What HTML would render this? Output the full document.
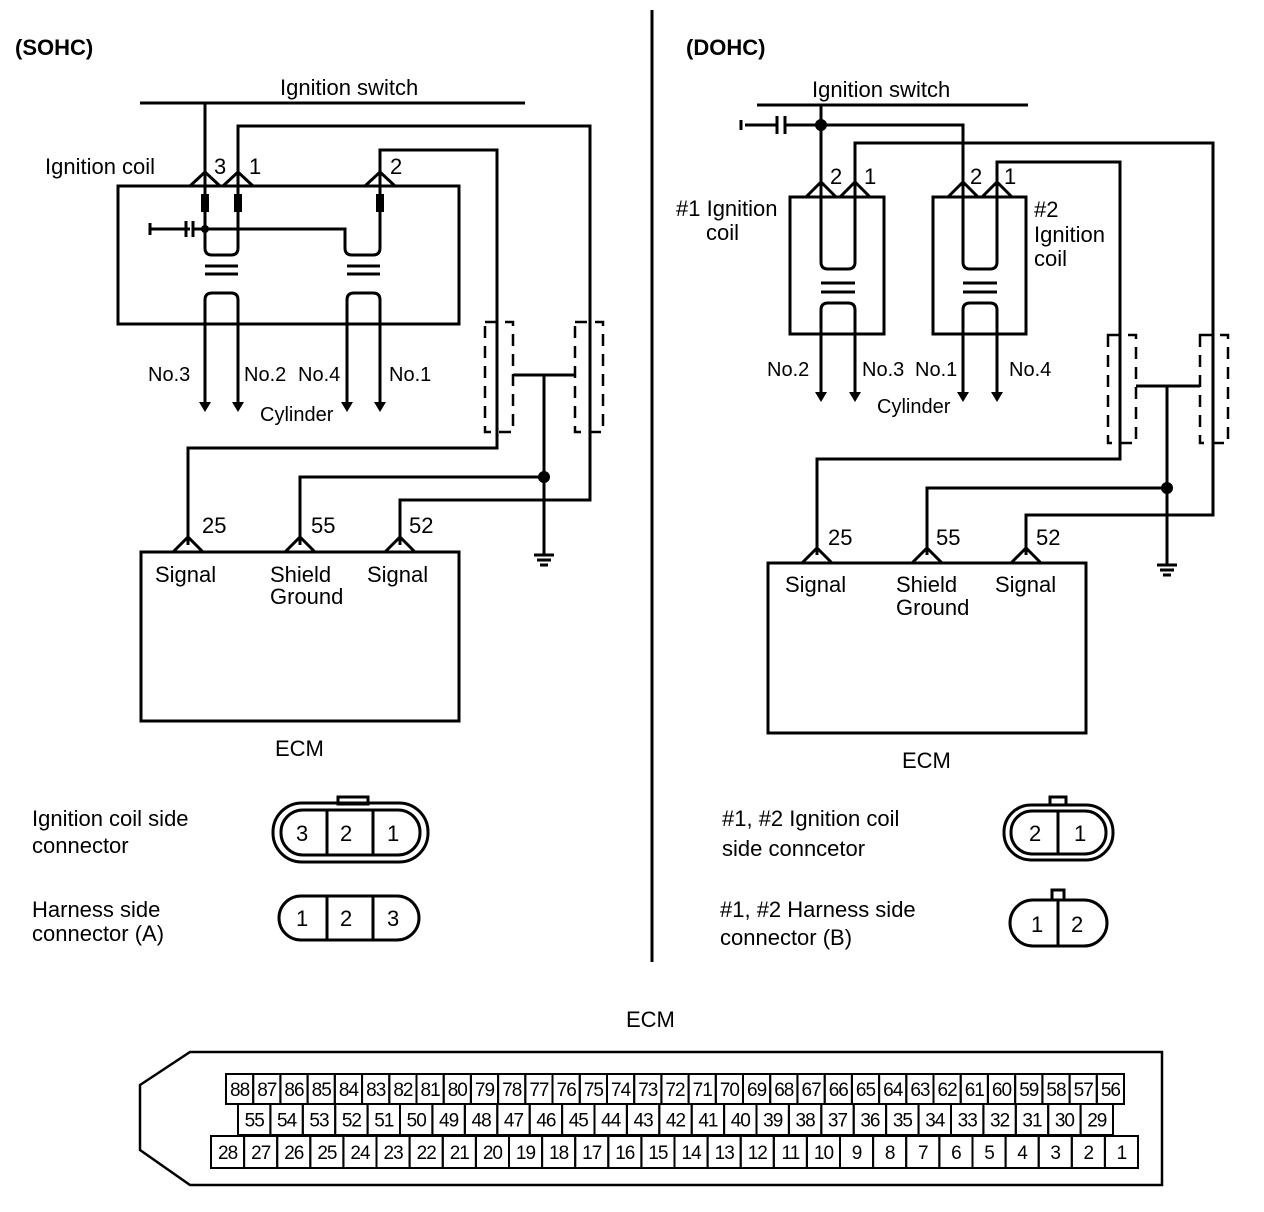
<!DOCTYPE html>
<html><head><meta charset="utf-8"><style>
body{margin:0;background:#fff}
svg{display:block}
text{font-family:"Liberation Sans",Arial,sans-serif;font-size:22px;fill:#000}
.b{font-weight:bold}
.s{font-size:20px}
</style></head><body>
<svg width="1264" height="1212" viewBox="0 0 1264 1212" xmlns="http://www.w3.org/2000/svg">
<g stroke="#000" stroke-width="3" fill="none">
<line x1="652" y1="10" x2="652" y2="962"/>
<line x1="140" y1="103" x2="525" y2="103"/>
<polyline points="205,103 205,186"/>
<polyline points="238,186 238,126 590,126 590,500 400,500 400,545"/>
<polyline points="380,186 380,150 497,150 497,448 188,448 188,545"/>
<rect x="118" y="186" width="341" height="138"/>
<polyline points="190,186 205,172 220,186"/>
<polyline points="223,186 238,172 253,186"/>
<polyline points="365,186 380,172 395,186"/>
<polyline points="173,552 188,537 203,552"/>
<polyline points="285,552 300,537 315,552"/>
<polyline points="385,552 400,537 415,552"/>
<rect x="141" y="552" width="318" height="169"/>
<path d="M205,186 V248 Q205,255 212,255 H231 Q238,255 238,248 V186"/>
<path d="M205,229 H345 V248 Q345,255 352,255 H373 Q380,255 380,248 V186"/>
<line x1="150" y1="229" x2="190" y2="229"/>
<line x1="186" y1="221" x2="186" y2="237"/>
<line x1="193" y1="221" x2="193" y2="237"/>
<line x1="193" y1="229" x2="205" y2="229"/>
<line x1="150" y1="223" x2="150" y2="235"/>
<line x1="205" y1="266" x2="238" y2="266"/>
<line x1="205" y1="274" x2="238" y2="274"/>
<line x1="347" y1="266" x2="380" y2="266"/>
<line x1="347" y1="274" x2="380" y2="274"/>
<path d="M205,402 V300 Q205,293 212,293 H231 Q238,293 238,300 V402"/>
<path d="M347,402 V300 Q347,293 354,293 H373 Q380,293 380,300 V402"/>
<g stroke-dasharray="12,8" stroke-width="2.5">
<rect x="485" y="322" width="28" height="110"/>
<rect x="575" y="322" width="28" height="110"/>
</g>
<line x1="513" y1="375" x2="575" y2="375"/>
<polyline points="544,375 544,555"/>
<polyline points="544,477 300,477 300,545"/>
<line x1="534" y1="555" x2="554" y2="555"/>
<line x1="537" y1="560" x2="551" y2="560"/>
<line x1="540" y1="565" x2="548" y2="565"/>
<line x1="757" y1="105" x2="1028" y2="105"/>
<line x1="821" y1="105" x2="821" y2="197"/>
<polyline points="821,125 963,125 963,197"/>
<line x1="745" y1="125" x2="777" y2="125"/>
<line x1="777" y1="116" x2="777" y2="134"/>
<line x1="785" y1="116" x2="785" y2="134"/>
<line x1="785" y1="125" x2="821" y2="125"/>
<line x1="741" y1="120" x2="741" y2="130"/>
<polyline points="855,197 855,143 1213,143 1213,515 1026,515 1026,555"/>
<polyline points="997,197 997,162 1120,162 1120,459 817,459 817,555"/>
<rect x="790" y="197" width="94" height="137"/>
<rect x="933" y="197" width="93" height="137"/>
<polyline points="806,197 821,182 836,197"/>
<polyline points="840,197 855,182 870,197"/>
<polyline points="948,197 963,182 978,197"/>
<polyline points="982,197 997,182 1012,197"/>
<path d="M821,197 V262 Q821,269 828,269 H848 Q855,269 855,262 V197"/>
<path d="M963,197 V262 Q963,269 970,269 H990 Q997,269 997,262 V197"/>
<line x1="821" y1="283" x2="855" y2="283"/>
<line x1="821" y1="292" x2="855" y2="292"/>
<line x1="963" y1="283" x2="997" y2="283"/>
<line x1="963" y1="292" x2="997" y2="292"/>
<path d="M821,393 V310 Q821,303 828,303 H848 Q855,303 855,310 V393"/>
<path d="M963,393 V310 Q963,303 970,303 H990 Q997,303 997,310 V393"/>
<g stroke-dasharray="12,8" stroke-width="2.5">
<rect x="1108" y="335" width="28" height="108"/>
<rect x="1200" y="335" width="28" height="108"/>
</g>
<line x1="1136" y1="386" x2="1200" y2="386"/>
<line x1="1167" y1="386" x2="1167" y2="565"/>
<polyline points="1167,488 927,488 927,555"/>
<line x1="1157" y1="565" x2="1177" y2="565"/>
<line x1="1160" y1="570" x2="1174" y2="570"/>
<line x1="1163" y1="575" x2="1171" y2="575"/>
<polyline points="802,563 817,548 832,563"/>
<polyline points="912,563 927,548 942,563"/>
<polyline points="1011,563 1026,548 1041,563"/>
<rect x="768" y="563" width="318" height="170"/>
<rect x="338" y="797" width="30" height="7"/>
<rect x="273" y="803" width="155" height="59" rx="29"/>
<rect x="281" y="810" width="139" height="45" rx="22"/>
<line x1="327" y1="810" x2="327" y2="855"/>
<line x1="373" y1="810" x2="373" y2="855"/>
<rect x="279" y="896" width="140" height="44" rx="22"/>
<line x1="327" y1="896" x2="327" y2="940"/>
<line x1="373" y1="896" x2="373" y2="940"/>
<rect x="1050" y="797" width="16" height="8"/>
<rect x="1004" y="805" width="109" height="55" rx="27"/>
<rect x="1011" y="811" width="95" height="43" rx="21"/>
<line x1="1058" y1="811" x2="1058" y2="854"/>
<rect x="1052" y="890" width="12" height="10"/>
<rect x="1010" y="900" width="97" height="46" rx="23"/>
<line x1="1058" y1="900" x2="1058" y2="946"/>
<path d="M190,1052 H1162 V1185 H190 L140,1150 V1085 Z" stroke-width="2.5"/>
</g>
<g fill="#000">
<path d="M199,402 h12 l-6,10z"/><path d="M232,402 h12 l-6,10z"/><path d="M341,402 h12 l-6,10z"/><path d="M374,402 h12 l-6,10z"/>
<path d="M815,392 h12 l-6,10z"/><path d="M849,392 h12 l-6,10z"/><path d="M957,392 h12 l-6,10z"/><path d="M991,392 h12 l-6,10z"/>
<rect x="201" y="194" width="8" height="18"/><rect x="234" y="194" width="8" height="18"/><rect x="376" y="194" width="8" height="18"/>
<circle cx="205" cy="229" r="4"/><circle cx="544" cy="477" r="6"/><circle cx="821" cy="125" r="6"/><circle cx="1167" cy="488" r="6"/>
</g>
<text x="15" y="55" class="b">(SOHC)</text>
<text x="686" y="55" class="b">(DOHC)</text>
<text x="280" y="95">Ignition switch</text>
<text x="812" y="97">Ignition switch</text>
<text x="45" y="174">Ignition coil</text>
<text x="214" y="174">3</text><text x="249" y="174">1</text><text x="390" y="174">2</text>
<text x="148" y="381" class="s">No.3</text><text x="244" y="381" class="s">No.2</text><text x="298" y="381" class="s">No.4</text><text x="389" y="381" class="s">No.1</text>
<text x="260" y="421" class="s">Cylinder</text>
<text x="202" y="533">25</text><text x="311" y="533">55</text><text x="409" y="533">52</text>
<text x="155" y="582">Signal</text><text x="270" y="582">Shield</text><text x="270" y="604">Ground</text><text x="367" y="582">Signal</text>
<text x="275" y="756">ECM</text>
<text x="32" y="826">Ignition coil side</text><text x="32" y="853">connector</text>
<text x="296" y="841">3</text><text x="340" y="841">2</text><text x="387" y="841">1</text>
<text x="32" y="917">Harness side</text><text x="32" y="941">connector (A)</text>
<text x="296" y="926">1</text><text x="340" y="926">2</text><text x="387" y="926">3</text>
<text x="676" y="216">#1 Ignition</text><text x="706" y="240">coil</text>
<text x="1034" y="217">#2</text><text x="1034" y="242">Ignition</text><text x="1034" y="266">coil</text>
<text x="830" y="184">2</text><text x="864" y="184">1</text><text x="970" y="184">2</text><text x="1004" y="184">1</text>
<text x="767" y="376" class="s">No.2</text><text x="862" y="376" class="s">No.3</text><text x="915" y="376" class="s">No.1</text><text x="1009" y="376" class="s">No.4</text>
<text x="877" y="413" class="s">Cylinder</text>
<text x="828" y="545">25</text><text x="936" y="545">55</text><text x="1036" y="545">52</text>
<text x="785" y="592">Signal</text><text x="896" y="592">Shield</text><text x="896" y="615">Ground</text><text x="995" y="592">Signal</text>
<text x="902" y="768">ECM</text>
<text x="722" y="826">#1, #2 Ignition coil</text><text x="722" y="856">side conncetor</text>
<text x="1029" y="841">2</text><text x="1074" y="841">1</text>
<text x="720" y="917">#1, #2 Harness side</text><text x="720" y="945">connector (B)</text>
<text x="1031" y="932">1</text><text x="1071" y="932">2</text>
<text x="626" y="1027">ECM</text>
<g id="pins"></g>
</svg>
<script>
(function(){
var g=document.getElementById('pins'),h='';
function row(x0,x1,y,hh,from,to){var n=from-to+1,w=(x1-x0)/n;for(var i=0;i<n;i++){var x=x0+i*w;h+='<rect x="'+x.toFixed(1)+'" y="'+y+'" width="'+w.toFixed(1)+'" height="'+hh+'" fill="none" stroke="#000" stroke-width="2"/>';h+='<text x="'+(x+w/2).toFixed(1)+'" y="'+(y+hh/2+7)+'" text-anchor="middle" style="font-size:19px;letter-spacing:-1px">'+(from-i)+'</text>';}}
row(226,1124,1074,30,88,56);
row(238,1113,1104,31,55,29);
row(211,1138,1136,32,28,1);
g.innerHTML=h;
})();
</script>
</body></html>
